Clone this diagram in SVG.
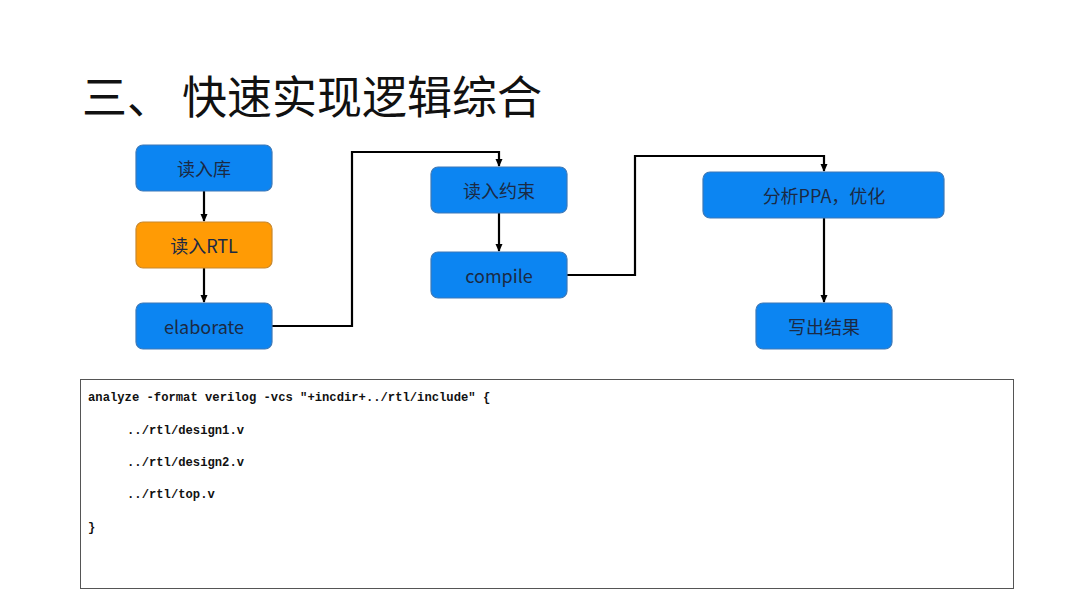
<svg xmlns="http://www.w3.org/2000/svg" width="1080" height="607" viewBox="0 0 1080 607">
<style>
.box{fill:#0c85f2;stroke:#3d79b8;stroke-width:1.2}
.orange{fill:#ff9b05;stroke:#c8882e;stroke-width:1.2}
.lbl{font-family:"Noto Sans CJK SC","Noto Sans",sans-serif;font-size:18px;fill:#1b2a44;text-anchor:middle;dominant-baseline:central}
.code{font-family:"Liberation Mono",monospace;font-weight:bold;font-size:12.2px;fill:#111}
.conn{fill:none;stroke:#000;stroke-width:2.2}
</style>
<defs>
<marker id="arr" markerWidth="8" markerHeight="8" refX="7" refY="4" orient="auto" markerUnits="userSpaceOnUse">
<path d="M0,0.5 L8,4 L0,7.5 Z" fill="#000"/>
</marker>
</defs>
<rect width="1080" height="607" fill="#fff"/>
<text x="82" y="114" font-family="'Noto Sans CJK SC',sans-serif" font-size="45" fill="#111">三、 快速实现逻辑综合</text>
<g id="connectors">
<path class="conn" d="M204,191 V221" marker-end="url(#arr)"/>
<path class="conn" d="M204,268 V302" marker-end="url(#arr)"/>
<path class="conn" d="M272,326 H352 V152 H499 V166" marker-end="url(#arr)"/>
<path class="conn" d="M499,213 V251" marker-end="url(#arr)"/>
<path class="conn" d="M567,275 H635 V156 H824 V171" marker-end="url(#arr)"/>
<path class="conn" d="M824,218 V302" marker-end="url(#arr)"/>
</g>
<g id="n1"><rect class="box" x="136" y="145" width="136" height="46" rx="7"/><text class="lbl" x="204" y="168">读入库</text></g>
<g id="n2"><rect class="orange" x="136" y="222" width="136" height="46" rx="7"/><text class="lbl" x="204" y="245">读入RTL</text></g>
<g id="n3"><rect class="box" x="136" y="303" width="136" height="46" rx="7"/><text class="lbl" x="204" y="326">elaborate</text></g>
<g id="n4"><rect class="box" x="431" y="167" width="136" height="46" rx="7"/><text class="lbl" x="499" y="190">读入约束</text></g>
<g id="n5"><rect class="box" x="431" y="252" width="136" height="46" rx="7"/><text class="lbl" x="499" y="275">compile</text></g>
<g id="n6"><rect class="box" x="703" y="172" width="241" height="46" rx="7"/><text class="lbl" x="824" y="195">分析PPA，优化</text></g>
<g id="n7"><rect class="box" x="756" y="303" width="136" height="46" rx="7"/><text class="lbl" x="824" y="326">写出结果</text></g>
<g id="codebox">
<rect x="80.5" y="379.5" width="933" height="209" fill="#fff" stroke="#555" stroke-width="1"/>
<text class="code" x="88" y="401" xml:space="preserve">analyze -format verilog -vcs "+incdir+../rtl/include" {</text>
<text class="code" x="127" y="434">../rtl/design1.v</text>
<text class="code" x="127" y="466">../rtl/design2.v</text>
<text class="code" x="127" y="498">../rtl/top.v</text>
<text class="code" x="88" y="531">}</text>
</g>
</svg>
